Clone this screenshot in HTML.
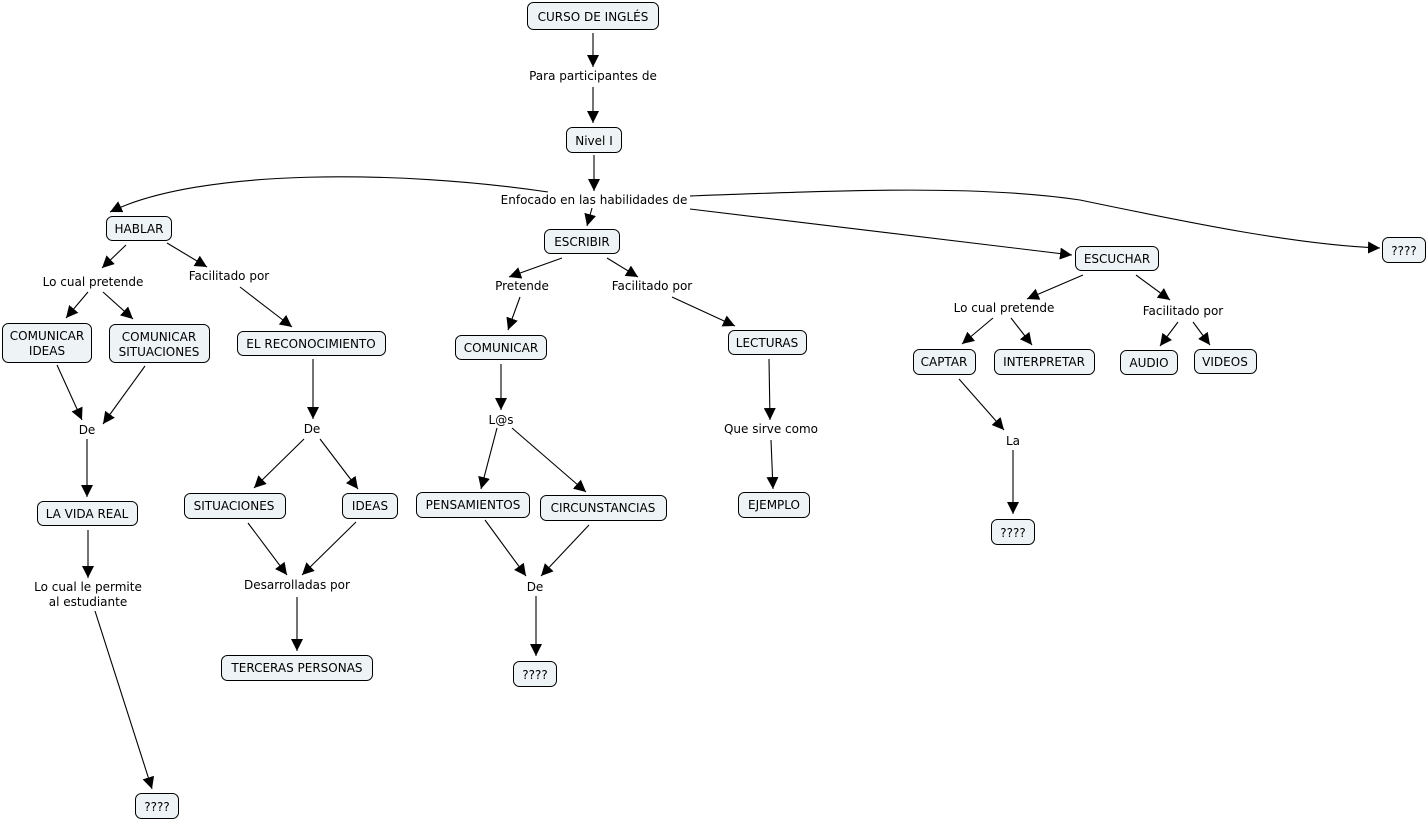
<!DOCTYPE html>
<html><head><meta charset="utf-8"><style>
html,body{margin:0;padding:0;background:#fff;}
svg{display:block}
text{font-family:"DejaVu Sans","Liberation Sans",sans-serif;font-size:12px;fill:#000;}
.n{fill:#eef3f5;stroke:#000;stroke-width:1}
.l{stroke:#000;stroke-width:1.1;fill:none;marker-end:url(#a)}
</style></head><body>
<svg width="1427" height="820" viewBox="0 0 1427 820" xmlns="http://www.w3.org/2000/svg">
<defs><marker id="a" markerUnits="userSpaceOnUse" markerWidth="14" markerHeight="12" refX="12" refY="6" orient="auto"><path d="M0,0 L12,6 L0,12 z" fill="#000"/></marker></defs>
<g>
<line class="l" x1="593" y1="33" x2="593" y2="67"/>
<line class="l" x1="593" y1="87" x2="593" y2="123"/>
<line class="l" x1="594" y1="155" x2="594" y2="191"/>
<path class="l" d="M548,192 C400,170 200,168 110,212"/>
<line class="l" x1="592" y1="208" x2="587" y2="226"/>
<line class="l" x1="690" y1="209" x2="1072" y2="255"/>
<path class="l" d="M690,196 C850,190 980,185 1080,200 C1200,225 1300,245 1380,248"/>
<line class="l" x1="126" y1="245" x2="102" y2="268"/>
<line class="l" x1="167" y1="243" x2="207" y2="267"/>
<line class="l" x1="88" y1="292" x2="66" y2="318"/>
<line class="l" x1="103" y1="292" x2="133" y2="319"/>
<line class="l" x1="240" y1="287" x2="292" y2="327"/>
<line class="l" x1="57" y1="365" x2="82" y2="420"/>
<line class="l" x1="145" y1="366" x2="103" y2="424"/>
<line class="l" x1="87" y1="439" x2="87" y2="497"/>
<line class="l" x1="88" y1="530" x2="88" y2="578"/>
<line class="l" x1="95" y1="611" x2="152" y2="789"/>
<line class="l" x1="313" y1="359" x2="313" y2="419"/>
<line class="l" x1="304" y1="439" x2="254" y2="488"/>
<line class="l" x1="320" y1="439" x2="358" y2="489"/>
<line class="l" x1="248" y1="523" x2="287" y2="575"/>
<line class="l" x1="356" y1="522" x2="302" y2="575"/>
<line class="l" x1="297" y1="597" x2="297" y2="651"/>
<line class="l" x1="562" y1="258" x2="509" y2="277"/>
<line class="l" x1="607" y1="258" x2="638" y2="277"/>
<line class="l" x1="520" y1="297" x2="508" y2="330"/>
<line class="l" x1="672" y1="297" x2="735" y2="326"/>
<line class="l" x1="501" y1="364" x2="501" y2="410"/>
<line class="l" x1="497" y1="428" x2="481" y2="489"/>
<line class="l" x1="512" y1="428" x2="586" y2="492"/>
<line class="l" x1="485" y1="520" x2="526" y2="576"/>
<line class="l" x1="589" y1="525" x2="541" y2="576"/>
<line class="l" x1="536" y1="596" x2="536" y2="656"/>
<line class="l" x1="769" y1="359" x2="770" y2="420"/>
<line class="l" x1="771" y1="440" x2="773" y2="489"/>
<line class="l" x1="1083" y1="275" x2="1027" y2="299"/>
<line class="l" x1="1136" y1="275" x2="1170" y2="300"/>
<line class="l" x1="993" y1="318" x2="962" y2="344"/>
<line class="l" x1="1011" y1="318" x2="1032" y2="345"/>
<line class="l" x1="1178" y1="322" x2="1160" y2="346"/>
<line class="l" x1="1193" y1="322" x2="1210" y2="345"/>
<line class="l" x1="959" y1="379" x2="1004" y2="430"/>
<line class="l" x1="1013" y1="450" x2="1013" y2="514"/>
</g>
<g>
<rect class="n" x="527.5" y="2.5" width="131" height="27" rx="6"/>
<rect class="n" x="566.5" y="127.5" width="55" height="25" rx="6"/>
<rect class="n" x="106.5" y="216.5" width="65" height="24" rx="6"/>
<rect class="n" x="544.5" y="229.5" width="75" height="24" rx="6"/>
<rect class="n" x="1075.5" y="246.5" width="83" height="24" rx="6"/>
<rect class="n" x="1382.5" y="237.5" width="43" height="25" rx="6"/>
<rect class="n" x="2.5" y="323.5" width="89" height="39" rx="6"/>
<rect class="n" x="109.5" y="324.5" width="100" height="38" rx="6"/>
<rect class="n" x="237.5" y="331.5" width="148" height="24" rx="6"/>
<rect class="n" x="455.5" y="335.5" width="91" height="24" rx="6"/>
<rect class="n" x="728.5" y="330.5" width="78" height="24" rx="6"/>
<rect class="n" x="913.5" y="349.5" width="62" height="25" rx="6"/>
<rect class="n" x="994.5" y="349.5" width="100" height="25" rx="6"/>
<rect class="n" x="1120.5" y="350.5" width="57" height="24" rx="6"/>
<rect class="n" x="1194.5" y="349.5" width="62" height="24" rx="6"/>
<rect class="n" x="37.5" y="501.5" width="100" height="24" rx="6"/>
<rect class="n" x="184.5" y="493.5" width="101" height="25" rx="6"/>
<rect class="n" x="342.5" y="493.5" width="55" height="25" rx="6"/>
<rect class="n" x="416.5" y="492.5" width="113" height="25" rx="6"/>
<rect class="n" x="540.5" y="495.5" width="126" height="25" rx="6"/>
<rect class="n" x="738.5" y="492.5" width="71" height="25" rx="6"/>
<rect class="n" x="991.5" y="519.5" width="43" height="25" rx="6"/>
<rect class="n" x="221.5" y="655.5" width="151" height="25" rx="6"/>
<rect class="n" x="513.5" y="661.5" width="43" height="25" rx="6"/>
<rect class="n" x="135.5" y="793.5" width="43" height="25" rx="6"/>
</g>
<g text-anchor="middle">
<text x="593" y="21">CURSO DE INGLÉS</text>
<text x="594" y="145">Nivel I</text>
<text x="139" y="233">HABLAR</text>
<text x="582" y="246">ESCRIBIR</text>
<text x="1117" y="263">ESCUCHAR</text>
<text x="1404" y="255">????</text>
<text x="47" y="340">COMUNICAR</text>
<text x="47" y="355">IDEAS</text>
<text x="159" y="341">COMUNICAR</text>
<text x="159" y="356">SITUACIONES</text>
<text x="311" y="348">EL RECONOCIMIENTO</text>
<text x="501" y="352">COMUNICAR</text>
<text x="767" y="347">LECTURAS</text>
<text x="944" y="366">CAPTAR</text>
<text x="1044" y="366">INTERPRETAR</text>
<text x="1149" y="367">AUDIO</text>
<text x="1225" y="366">VIDEOS</text>
<text x="87" y="518">LA VIDA REAL</text>
<text x="234" y="510">SITUACIONES</text>
<text x="370" y="510">IDEAS</text>
<text x="473" y="509">PENSAMIENTOS</text>
<text x="603" y="512">CIRCUNSTANCIAS</text>
<text x="774" y="509">EJEMPLO</text>
<text x="1013" y="537">????</text>
<text x="297" y="672">TERCERAS PERSONAS</text>
<text x="535" y="679">????</text>
<text x="157" y="811">????</text>

<text x="593" y="80">Para participantes de</text>
<text x="594" y="204">Enfocado en las habilidades de</text>
<text x="93" y="286">Lo cual pretende</text>
<text x="229" y="280">Facilitado por</text>
<text x="522" y="290">Pretende</text>
<text x="652" y="290">Facilitado por</text>
<text x="1004" y="312">Lo cual pretende</text>
<text x="1183" y="315">Facilitado por</text>
<text x="87" y="434">De</text>
<text x="312" y="433">De</text>
<text x="501" y="424">L@s</text>
<text x="771" y="433">Que sirve como</text>
<text x="1013" y="445">La</text>
<text x="297" y="589">Desarrolladas por</text>
<text x="88" y="591">Lo cual le permite</text>
<text x="88" y="606">al estudiante</text>
<text x="535" y="591">De</text>
</g>
</svg>
</body></html>
